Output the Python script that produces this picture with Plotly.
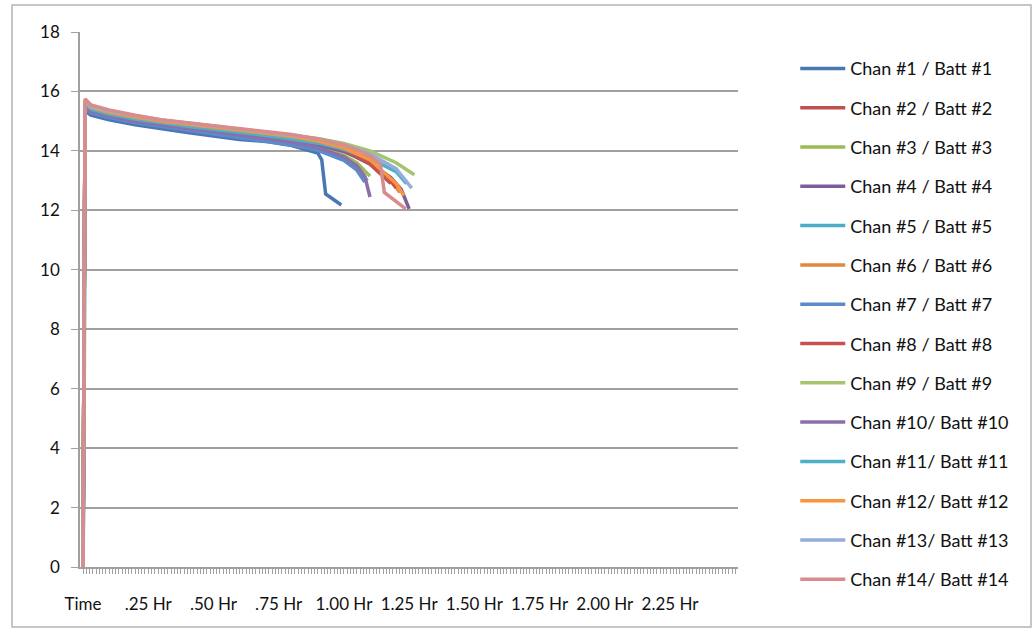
import plotly.graph_objects as go

# ---- data (hours, volts) ----
NAMES = ["Chan #1 / Batt #1", "Chan #2 / Batt #2", "Chan #3 / Batt #3", "Chan #4 / Batt #4",
         "Chan #5 / Batt #5", "Chan #6 / Batt #6", "Chan #7 / Batt #7", "Chan #8 / Batt #8",
         "Chan #9 / Batt #9", "Chan #10/ Batt #10", "Chan #11/ Batt #11", "Chan #12/ Batt #12",
         "Chan #13/ Batt #13", "Chan #14/ Batt #14"]
COLORS = ["#4a76b2", "#c0504d", "#9bbb59", "#7a5f9c", "#4bacc6", "#e0883f", "#5b8bcb",
          "#c9504f", "#a5c46e", "#8a70aa", "#4bb0c8", "#f7963f", "#94aeda", "#d88c8c"]

T_BODY = [0, 0.004, 0.008, 0.03, 0.1, 0.2, 0.3, 0.4, 0.5, 0.6, 0.7, 0.8, 0.9]

T_01 = T_BODY + [0.915, 0.93, 0.99]
V_01 = [0, 11.5, 15.35, 15.2, 15.05, 14.88, 14.74, 14.62, 14.5, 14.38, 14.32, 14.18, 13.93, 13.7, 12.55, 12.18]
T_02 = T_BODY + [1.0, 1.1, 1.18]
V_02 = [0, 9.6, 15.58, 15.42, 15.25, 15.08, 14.95, 14.84, 14.74, 14.64, 14.53, 14.41, 14.26, 14.0, 13.55, 12.9]
T_03 = T_BODY + [1.0, 1.05, 1.1]
V_03 = [0, 8.0, 15.55, 15.36, 15.2, 15.03, 14.9, 14.79, 14.68, 14.57, 14.46, 14.33, 14.16, 13.85, 13.6, 13.15]
T_04 = T_BODY + [1.0, 1.1, 1.18, 1.22, 1.25]
V_04 = [0, 7.0, 15.55, 15.38, 15.22, 15.05, 14.92, 14.81, 14.71, 14.6, 14.49, 14.37, 14.22, 13.98, 13.6, 13.1, 12.7, 12.05]
T_05 = T_BODY + [1.0, 1.05, 1.09]
V_05 = [0, 3.3, 15.5, 15.32, 15.15, 14.98, 14.85, 14.73, 14.62, 14.5, 14.38, 14.25, 14.07, 13.75, 13.45, 13.0]
T_06 = T_BODY + [1.0, 1.1, 1.18, 1.215]
V_06 = [0, 10.5, 15.6, 15.44, 15.28, 15.11, 14.98, 14.88, 14.78, 14.68, 14.57, 14.45, 14.3, 14.05, 13.65, 13.0, 12.6]
T_07 = T_BODY + [1.0, 1.05, 1.08]
V_07 = [0, 5.2, 15.45, 15.28, 15.12, 14.95, 14.82, 14.7, 14.58, 14.46, 14.34, 14.2, 14.02, 13.68, 13.35, 12.95]
T_08 = T_BODY + [1.0, 1.1, 1.17, 1.2]
V_08 = [0, 11.0, 15.6, 15.43, 15.27, 15.1, 14.97, 14.86, 14.76, 14.66, 14.55, 14.43, 14.28, 14.03, 13.6, 13.1, 12.75]
T_09 = T_BODY + [1.0, 1.1, 1.2, 1.27]
V_09 = [0, 9.0, 15.65, 15.48, 15.33, 15.16, 15.03, 14.93, 14.83, 14.73, 14.63, 14.53, 14.42, 14.25, 14.0, 13.6, 13.2]
T_10 = T_BODY + [1.0, 1.05, 1.08, 1.1]
V_10 = [0, 6.0, 15.5, 15.34, 15.18, 15.0, 14.87, 14.76, 14.65, 14.54, 14.42, 14.29, 14.12, 13.8, 13.5, 13.15, 12.45]
T_11 = T_BODY + [1.0, 1.1, 1.2, 1.24]
V_11 = [0, 10.0, 15.6, 15.4, 15.24, 15.07, 14.94, 14.83, 14.73, 14.63, 14.52, 14.4, 14.26, 14.05, 13.75, 13.3, 12.9]
T_12 = T_BODY + [1.0, 1.1, 1.15, 1.2, 1.23]
V_12 = [0, 11.2, 15.65, 15.46, 15.3, 15.13, 15.0, 14.9, 14.8, 14.7, 14.6, 14.48, 14.33, 14.1, 13.7, 13.3, 12.9, 12.5]
T_13 = T_BODY + [1.0, 1.1, 1.2, 1.26]
V_13 = [0, 9.8, 15.7, 15.5, 15.35, 15.18, 15.04, 14.94, 14.84, 14.74, 14.64, 14.53, 14.4, 14.2, 13.9, 13.4, 12.75]
T_14 = T_BODY + [1.0, 1.1, 1.14, 1.155, 1.237]
V_14 = [0, 8.5, 15.75, 15.55, 15.38, 15.2, 15.05, 14.95, 14.85, 14.75, 14.65, 14.55, 14.4, 14.2, 13.85, 13.55, 12.6, 12.05]

TIMES = [T_01, T_02, T_03, T_04, T_05, T_06, T_07, T_08, T_09, T_10, T_11, T_12, T_13, T_14]
VOLTS = [V_01, V_02, V_03, V_04, V_05, V_06, V_07, V_08, V_09, V_10, V_11, V_12, V_13, V_14]

X_TICKS = [0, 0.25, 0.5, 0.75, 1.0, 1.25, 1.5, 1.75, 2.0, 2.25]
X_LABELS = ["Time", ".25 Hr", ".50 Hr", ".75 Hr", "1.00 Hr", "1.25 Hr", "1.50 Hr", "1.75 Hr", "2.00 Hr", "2.25 Hr"]
Y_TICKS = [0, 2, 4, 6, 8, 10, 12, 14, 16, 18]

FONT = "Lato"

fig = go.Figure()
for i in range(len(NAMES)):
    fig.add_trace(go.Scatter(
        x=TIMES[i], y=VOLTS[i], mode="lines", name=NAMES[i],
        legendgroup=f"g{i}",
        line=dict(color=COLORS[i], width=3.5),
    ))

fig.update_layout(
    width=1032, height=633,
    margin=dict(l=80, r=294, t=32, b=66, autoexpand=False),
    paper_bgcolor="white", plot_bgcolor="white",
    font=dict(family=FONT, size=17, color="#111111"),
    showlegend=True,
    legend=dict(x=1.087, y=0.966, xanchor="left", yanchor="top",
                font=dict(family=FONT, size=18, color="#111111"),
                itemwidth=45, tracegroupgap=12.9, maxheight=630,
                bgcolor="rgba(0,0,0,0)"),
    xaxis=dict(range=[-0.0115, 2.5105], tickvals=X_TICKS, ticktext=X_LABELS,
               showgrid=False, zeroline=False, showline=True, linecolor="#a0a0a0", linewidth=1.5,
               ticks="outside", ticklen=5, tickcolor="#a0a0a0", ticklabelstandoff=16,
               minor=dict(dtick=0.0125, tick0=0, ticks="outside", ticklen=5, tickcolor="#a0a0a0",
                          showgrid=False)),
    yaxis=dict(range=[0, 18], tickvals=Y_TICKS, showgrid=True, gridcolor="#a0a0a0", gridwidth=1.5,
               zeroline=False, showline=True, linecolor="#a0a0a0", linewidth=1.5,
               ticks="outside", ticklen=7, tickcolor="#a0a0a0", ticklabelstandoff=8),
)

# chart-area border
fig.add_shape(type="rect", xref="paper", yref="paper",
              x0=-0.1033, x1=1.4453, y0=-0.1121, y1=1.0505,
              line=dict(color="#b4b4b4", width=1.5), fillcolor="rgba(0,0,0,0)", layer="below")

fig.write_html("out.html", config={"displayModeBar": False},
               post_script="document.body.style.margin='0';document.body.style.overflow='hidden';")
